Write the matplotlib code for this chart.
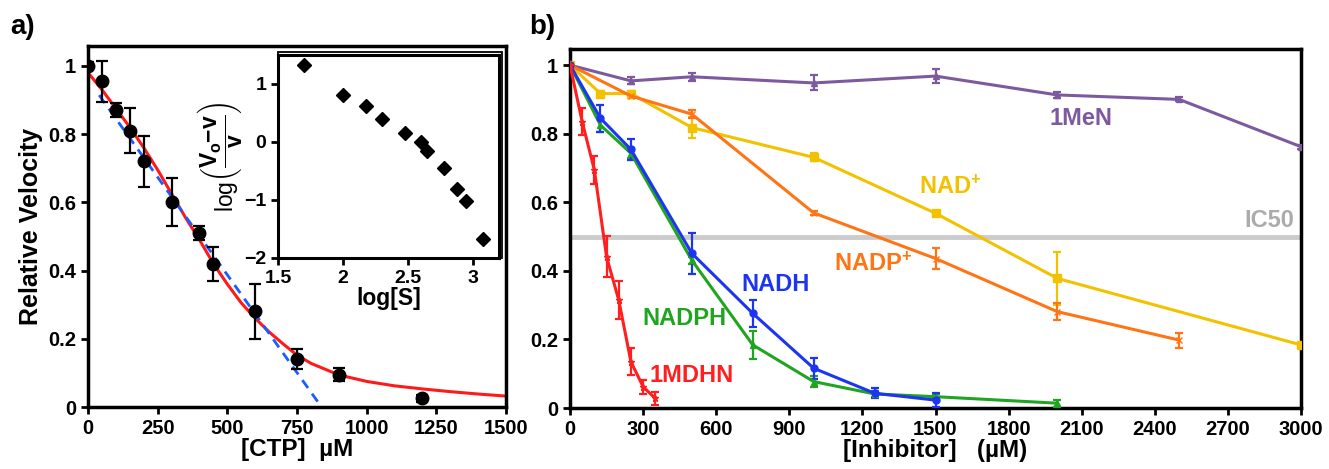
import numpy as np
import matplotlib
matplotlib.use("Agg")
import matplotlib.pyplot as plt
from matplotlib.patches import Rectangle

plt.rcParams['font.family'] = ['Liberation Sans', 'DejaVu Sans']
plt.rcParams['font.weight'] = 'bold'
plt.rcParams['mathtext.fontset'] = 'custom'
plt.rcParams['mathtext.rm'] = 'Liberation Sans:bold'
plt.rcParams['mathtext.it'] = 'Liberation Sans:bold'
plt.rcParams['mathtext.bf'] = 'Liberation Sans:bold'

# ---------------- panel a data ----------------
ctp = [0, 50, 100, 150, 200, 300, 400, 450, 600, 750, 900, 1200]
rel_v = [1.0, 0.955, 0.87, 0.81, 0.72, 0.60, 0.51, 0.42, 0.28, 0.14, 0.095, 0.025]
rel_err = [0.01, 0.06, 0.02, 0.065, 0.075, 0.07, 0.02, 0.05, 0.08, 0.03, 0.02, 0.01]

fit_x = [0, 50, 100, 150, 200, 250, 300, 350, 400, 450, 500, 550, 600, 650, 700,
         750, 800, 900, 1000, 1100, 1200, 1300, 1400, 1500]
fit_y = [0.98, 0.93, 0.875, 0.82, 0.76, 0.695, 0.625, 0.555, 0.49, 0.42, 0.36, 0.305,
         0.26, 0.22, 0.185, 0.152, 0.128, 0.094, 0.075, 0.062, 0.053, 0.045, 0.038, 0.032]

lin_x = [40, 838]
lin_y = [0.914, 0.0]

# inset (Hill plot)
log_s = [1.70, 2.00, 2.18, 2.30, 2.48, 2.60, 2.65, 2.78, 2.88, 2.95, 3.08]
hill_y = [1.33, 0.81, 0.62, 0.40, 0.16, 0.005, -0.16, -0.44, -0.81, -1.02, -1.67]

# ---------------- panel b data ----------------
x_men = [0, 250, 500, 1000, 1500, 2000, 2500, 3000]
y_men = [1.0, 0.954, 0.966, 0.948, 0.968, 0.913, 0.900, 0.762]
e_men = [0.005, 0.01, 0.012, 0.022, 0.02, 0.008, 0.006, 0.006]

x_nad = [0, 125, 250, 500, 1000, 1500, 2000, 3000]
y_nad = [1.0, 0.917, 0.917, 0.818, 0.731, 0.568, 0.378, 0.184]
e_nad = [0.005, 0.008, 0.008, 0.03, 0.012, 0.006, 0.078, 0.006]

x_nadp = [0, 250, 500, 1000, 1500, 2000, 2500]
y_nadp = [1.0, 0.91, 0.857, 0.569, 0.436, 0.281, 0.198]
e_nadp = [0.005, 0.006, 0.012, 0.006, 0.03, 0.025, 0.022]

x_nadh = [0, 125, 250, 500, 750, 1000, 1250, 1500]
y_nadh = [1.0, 0.845, 0.754, 0.451, 0.276, 0.116, 0.043, 0.023]
e_nadh = [0.005, 0.04, 0.03, 0.06, 0.04, 0.03, 0.015, 0.02]

x_nadph = [0, 125, 250, 500, 750, 1000, 1250, 1500, 2000]
y_nadph = [1.0, 0.825, 0.743, 0.431, 0.184, 0.077, 0.041, 0.033, 0.014]
e_nadph = [0.005, 0.02, 0.015, 0.01, 0.04, 0.015, 0.01, 0.008, 0.01]

x_mdhn = [0, 50, 100, 150, 200, 250, 300, 350]
y_mdhn = [1.0, 0.835, 0.694, 0.441, 0.315, 0.135, 0.062, 0.028]
e_mdhn = [0.005, 0.04, 0.04, 0.06, 0.055, 0.04, 0.02, 0.02]

c_purple = '#7d5a9e'
c_yellow = '#f2c200'
c_orange = '#ff7414'
c_blue = '#1c35f0'
c_green = '#1fa51f'
c_red = '#ff1f1f'

W, H = 1329, 469
fig = plt.figure(figsize=(W / 100, H / 100), dpi=100)


def px_axes(l, t, r, b):
    return fig.add_axes([l / W, 1 - b / H, (r - l) / W, (b - t) / H])


def style(ax, lw=2.5, size=14.5):
    for s in ax.spines.values():
        s.set_linewidth(lw)
    ax.tick_params(direction='out', length=5, width=2, labelsize=size)
    for lab in ax.get_xticklabels() + ax.get_yticklabels():
        lab.set_fontweight('bold')


# ---------------------------- a) ----------------------------
ax1 = px_axes(88, 46, 506, 407)
ax1.plot(fit_x, fit_y, color='#ff1a1a', lw=2.2, zorder=2)
ax1.plot(lin_x, lin_y, color='#1a5cff', lw=2, ls=(0, (3.5, 2.5)), zorder=3)
ax1.errorbar(ctp, rel_v, yerr=rel_err, fmt='o', color='black', ms=9,
             elinewidth=1.6, capsize=4, capthick=1.6, zorder=4)
ax1.set_xlim(0, 1500)
ax1.set_ylim(0, 1.058)
ax1.set_xticks([0, 250, 500, 750, 1000, 1250, 1500])
ax1.set_yticks([0, 0.2, 0.4, 0.6, 0.8, 1])
ax1.set_yticklabels(['0', '0.2', '0.4', '0.6', '0.8', '1'])
style(ax1)
ax1.set_xlabel('[CTP]  \u00b5M', fontsize=17.5, fontweight='bold', labelpad=0)
ax1.set_ylabel('Relative Velocity', fontsize=18, fontweight='bold', labelpad=4)

ins = px_axes(278, 55, 499, 258)
ins.plot(log_s, hill_y, 'D', color='black', ms=7)
ins.set_xlim(1.5, 3.2)
ins.set_ylim(-2, 1.5)
ins.set_xticks([1.5, 2, 2.5, 3])
ins.set_xticklabels(['1.5', '2', '2.5', '3'])
ins.set_yticks([-2, -1, 0, 1])
style(ins, lw=2.2, size=14)
ins.add_patch(Rectangle((0, 0), 1.012, 1.016, transform=ins.transAxes, fill=False,
                        lw=1.3, color='black', clip_on=False))
ins.set_xlabel('log[S]', fontsize=16.5, fontweight='bold', labelpad=0)
ins.set_ylabel(r'log$\left(\dfrac{V_{o}\mathrm{-}v}{v}\right)$', fontsize=16.5, labelpad=0)

fig.text(10 / W, 1 - 34 / H, 'a)', fontsize=20, fontweight='bold')

# ---------------------------- b) ----------------------------
ax2 = px_axes(570, 49, 1301, 408)
ax2.axhline(0.5, color='#cccccc', lw=3.5, zorder=1)

series = [
    (x_men, y_men, e_men, c_purple, '^', 5),
    (x_nad, y_nad, e_nad, c_yellow, 's', 6),
    (x_nadp, y_nadp, e_nadp, c_orange, 'x', 4),
    (x_nadph, y_nadph, e_nadph, c_green, '^', 5),
    (x_nadh, y_nadh, e_nadh, c_blue, 'o', 5),
    (x_mdhn, y_mdhn, e_mdhn, c_red, '*', 5),
]
for xs, ys, es, col, mk, ms in series:
    ax2.errorbar(xs, ys, yerr=es, color=col, marker=mk, ms=ms, lw=2.2,
                 elinewidth=1.6, capsize=3, capthick=1.6, zorder=3)

lab_kw = dict(fontsize=17, fontweight='bold', ha='center', va='center')
ax2.text(2096, 0.845, '1MeN', color=c_purple, **lab_kw)
ax2.text(1560, 0.645, 'NAD$^{+}$', color=c_yellow, **lab_kw)
ax2.text(1245, 0.42, 'NADP$^{+}$', color=c_orange, **lab_kw)
ax2.text(845, 0.36, 'NADH', color=c_blue, **lab_kw)
ax2.text(470, 0.26, 'NADPH', color=c_green, **lab_kw)
ax2.text(500, 0.096, '1MDHN', color=c_red, **lab_kw)
ax2.text(2870, 0.548, 'IC50', color='#ababab', **lab_kw)

ax2.set_xlim(0, 3000)
ax2.set_ylim(0, 1.047)
ax2.set_xticks(range(0, 3001, 300))
ax2.set_yticks([0, 0.2, 0.4, 0.6, 0.8, 1])
ax2.set_yticklabels(['0', '0.2', '0.4', '0.6', '0.8', '1'])
style(ax2)
ax2.set_xlabel('[Inhibitor]   (\u00b5M)', fontsize=17.5, fontweight='bold', labelpad=0)

fig.text(529 / W, 1 - 34 / H, 'b)', fontsize=20, fontweight='bold')

fig.savefig('out.png', dpi=100)
